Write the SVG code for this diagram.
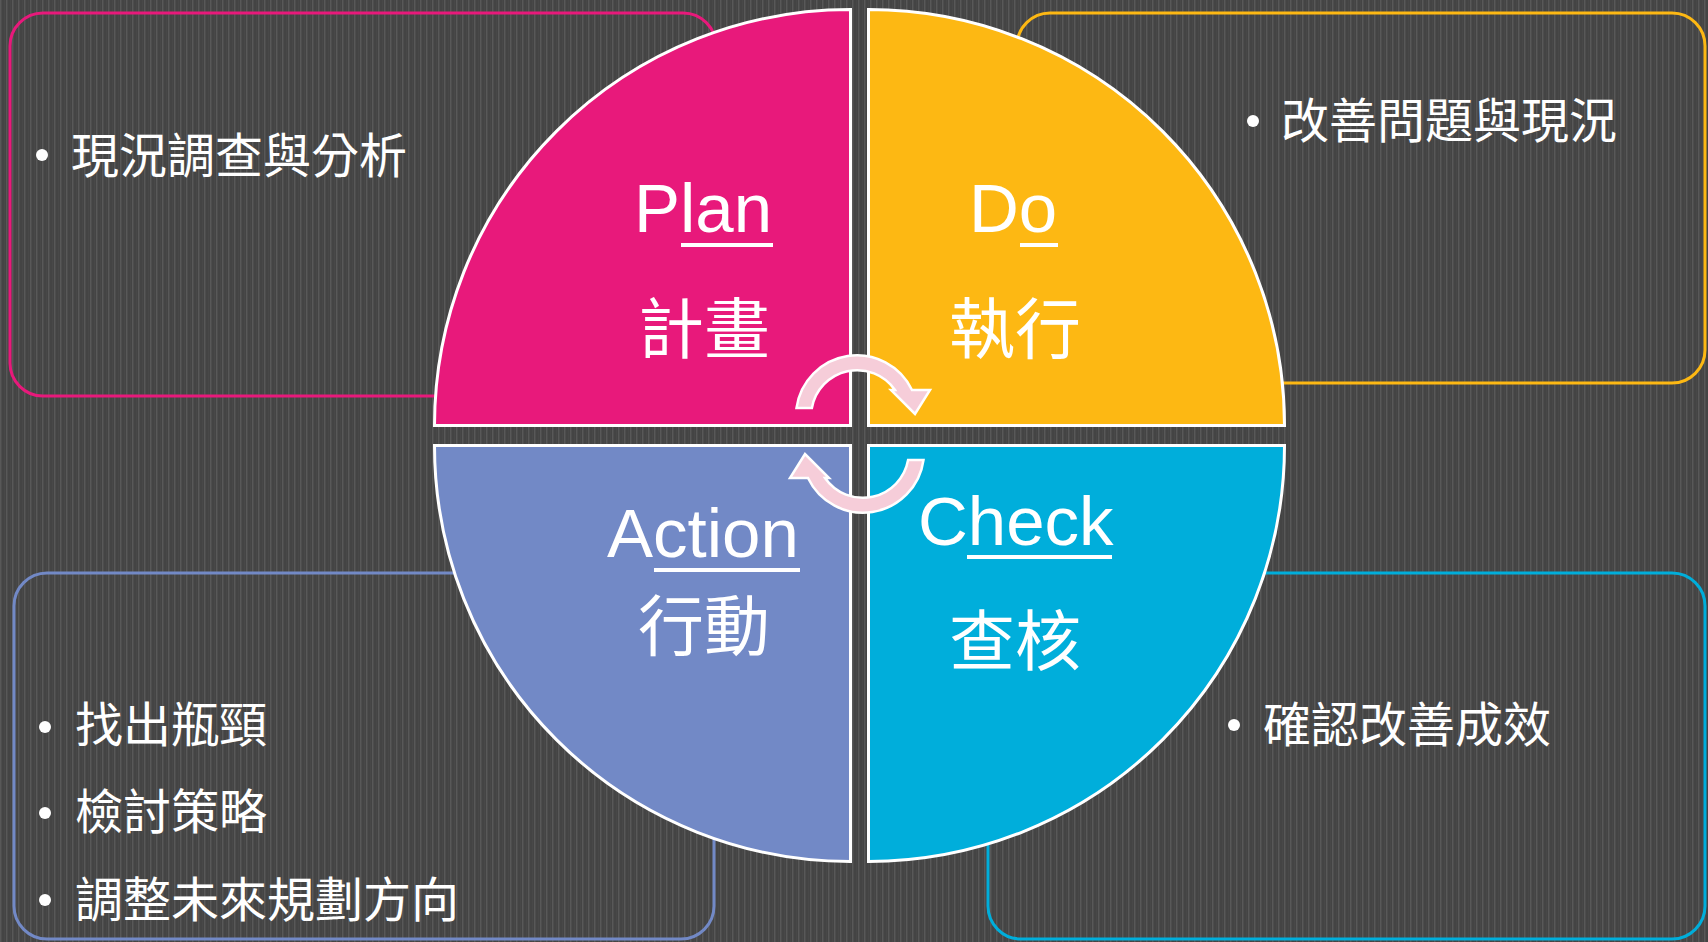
<svg xmlns="http://www.w3.org/2000/svg" width="1708" height="942" viewBox="0 0 1708 942">
  <defs>
    <pattern id="stripes" x="0" y="0" width="6" height="12" patternUnits="userSpaceOnUse">
      <rect width="6" height="12" fill="#444444"/>
      <rect x="0" width="1" height="12" fill="#585858"/>
      <rect x="1" width="1" height="12" fill="#4d4d4d"/>
      <rect x="4" width="1" height="12" fill="#484848"/>
    </pattern>
    <path id="cycleArrow" d="M 796.5 408 A 61 61 0 0 1 912 390 L 930 390 L 915 414 L 891 390 L 895 390 A 46 46 0 0 0 811.9 408 Z"/>
  </defs>
  <style>
    .box { fill: none; stroke-width: 3; }
    .quad { stroke: #ffffff; stroke-width: 3; stroke-linejoin: miter; }
    .en { font-family: "Liberation Sans", Arial, sans-serif; font-size: 69px; fill: #ffffff; }
    .zh { font-family: "Noto Sans CJK TC", "Noto Sans CJK SC", sans-serif; font-size: 66px; fill: #ffffff; text-anchor: middle; }
    .item { font-family: "Noto Sans CJK TC", "Noto Sans CJK SC", sans-serif; font-size: 48px; fill: #ffffff; }
    .dot { fill: #ffffff; }
    .ul { fill: #ffffff; }
    .arrow { fill: #f6cdd9; stroke: #ffffff; stroke-width: 2.5; stroke-linejoin: miter; }
  </style>

  <rect id="background" x="0" y="0" width="1708" height="942" fill="url(#stripes)"/>

  <g id="box-plan">
    <rect class="box" x="10" y="13" width="706" height="383" rx="33" stroke="#e8197b"/>
    <circle class="dot" cx="42" cy="155" r="6"/>
    <text class="item" x="71" y="173">現況調查與分析</text>
  </g>
  <g id="box-do">
    <rect class="box" x="1017" y="13" width="688" height="370" rx="33" stroke="#fdb813"/>
    <circle class="dot" cx="1253" cy="121" r="6"/>
    <text class="item" x="1281" y="138">改善問題與現況</text>
  </g>
  <g id="box-action">
    <rect class="box" x="14" y="573" width="700" height="366" rx="33" stroke="#7289c6"/>
    <circle class="dot" cx="45" cy="727" r="6"/>
    <text class="item" x="75" y="742">找出瓶頸</text>
    <circle class="dot" cx="45" cy="813" r="6"/>
    <text class="item" x="75" y="829">檢討策略</text>
    <circle class="dot" cx="45" cy="900" r="6"/>
    <text class="item" x="75" y="917">調整未來規劃方向</text>
  </g>
  <g id="box-check">
    <rect class="box" x="988" y="573" width="717" height="366" rx="33" stroke="#00aedb"/>
    <circle class="dot" cx="1234" cy="725" r="6"/>
    <text class="item" x="1263" y="742">確認改善成效</text>
  </g>

  <g id="plan">
    <path class="quad" fill="#e8197b" d="M 850.5 425.5 H 434.5 A 416 416 0 0 1 850.5 9.5 Z"/>
    <text class="en" x="634" y="232">Plan</text>
    <rect class="ul" x="681" y="243" width="92" height="4"/>
    <text class="zh" x="704" y="353">計畫</text>
  </g>
  <g id="do">
    <path class="quad" fill="#fdb813" d="M 868.5 425.5 V 9.5 A 416 416 0 0 1 1284.5 425.5 Z"/>
    <text class="en" x="969" y="232">Do</text>
    <rect class="ul" x="1020" y="243" width="38" height="4"/>
    <text class="zh" x="1015" y="353">執行</text>
  </g>
  <g id="action">
    <path class="quad" fill="#7289c6" d="M 850.5 445.5 V 861.5 A 416 416 0 0 1 434.5 445.5 Z"/>
    <text class="en" x="607" y="557">Action</text>
    <rect class="ul" x="654" y="568" width="146" height="4"/>
    <text class="zh" x="704" y="650">行動</text>
  </g>
  <g id="check">
    <path class="quad" fill="#00aedb" d="M 868.5 445.5 H 1284.5 A 416 416 0 0 1 868.5 861.5 Z"/>
    <text class="en" x="918" y="545">Check</text>
    <rect class="ul" x="967" y="555" width="145" height="4"/>
    <text class="zh" x="1015" y="665">查核</text>
  </g>

  <g id="connectors">
    <use href="#cycleArrow" class="arrow"/>
    <use href="#cycleArrow" class="arrow" transform="rotate(180 860 434)"/>
  </g>
</svg>
